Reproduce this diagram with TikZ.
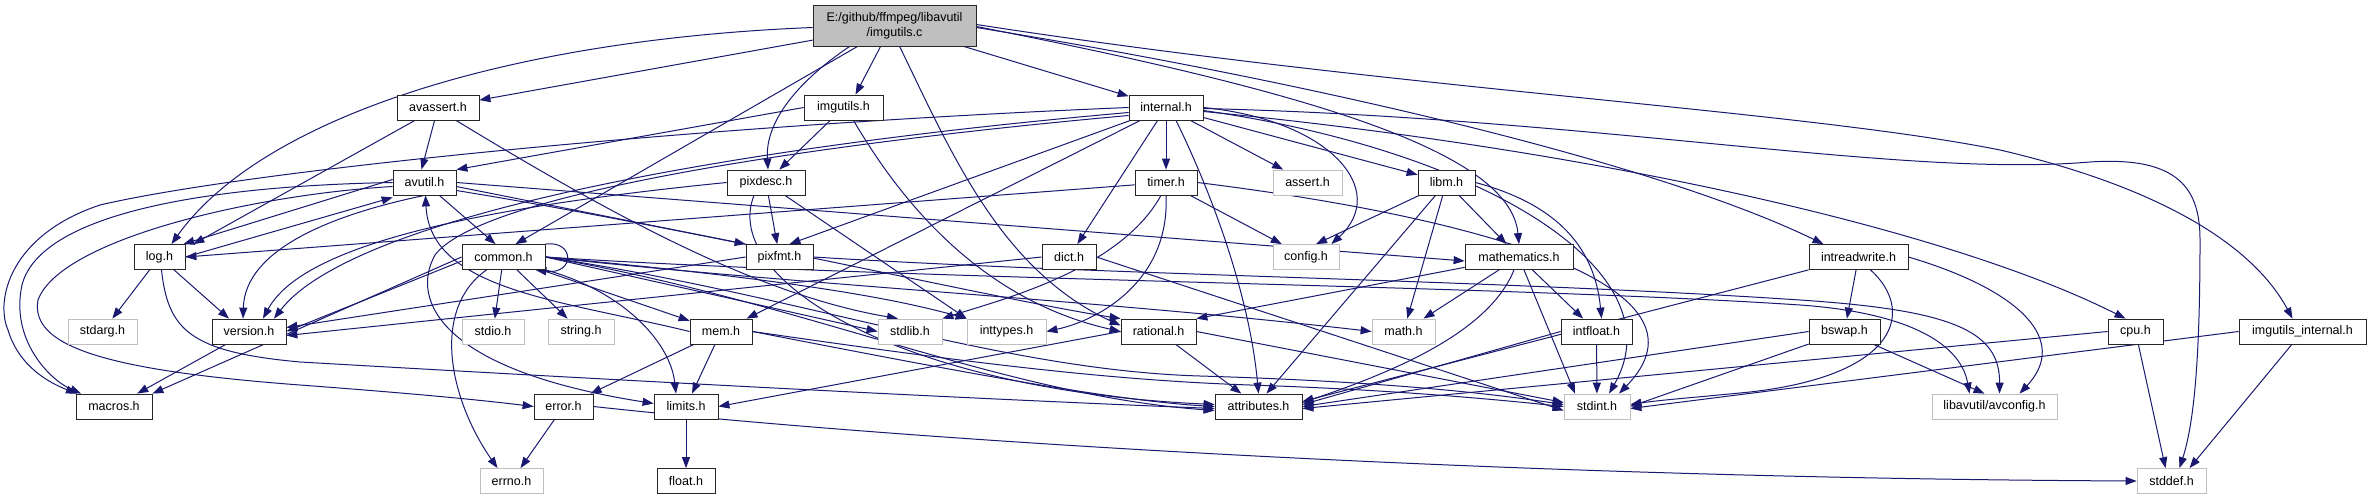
\documentclass[tikz,border=0pt]{standalone}
\usepackage{fontspec}
\setmainfont{Liberation Sans}
\usetikzlibrary{arrows.meta}
\definecolor{edgec}{HTML}{191970}
\definecolor{sysc}{HTML}{BFBFBF}
\pgfdeclarelayer{edgelayer}
\pgfsetlayers{edgelayer,main}
\begin{document}
\begin{tikzpicture}[x=1pt,y=-1pt,
 box/.style={draw=black!85,line width=0.8pt,fill=white,minimum height=25pt,inner sep=0pt,font=\fontsize{12.5}{15}\selectfont},
 sysbox/.style={box,draw=sysc},
 rootbox/.style={box,fill=sysc,minimum height=41pt,align=center},
 ed/.style={draw=edgec,line width=1pt,-{Triangle[length=11pt,width=8pt]}},
]
\useasboundingbox (0,0) rectangle (2371,500);
% row 0
\node[rootbox,minimum width=163pt] (root) at (894.5,25.5) {E:/github/ffmpeg/libavutil\\/imgutils.c};
% row 1
\node[box,minimum width=82pt] (avassert) at (438,107.5) {avassert.h};
\node[box,minimum width=79pt] (imgutilsh) at (843.5,107.5) {imgutils.h};
\node[box,minimum width=74pt] (internal) at (1166,107.5) {internal.h};
% row 2
\node[box,minimum width=63pt] (avutil) at (424.5,182.5) {avutil.h};
\node[box,minimum width=78pt] (pixdesc) at (766,182.5) {pixdesc.h};
\node[box,minimum width=62pt] (timer) at (1166,182.5) {timer.h};
\node[sysbox,minimum width=69pt] (assert) at (1307.5,182.5) {assert.h};
\node[box,minimum width=57pt] (libm) at (1446.5,182.5) {libm.h};
% row 3
\node[box,minimum width=51pt] (log) at (159.5,257) {log.h};
\node[box,minimum width=83pt] (common) at (503.5,257) {common.h};
\node[box,minimum width=67pt] (pixfmt) at (779.5,257) {pixfmt.h};
\node[box,minimum width=54pt] (dict) at (1069,257) {dict.h};
\node[sysbox,minimum width=66pt] (config) at (1306,257) {config.h};
\node[box,minimum width=108pt] (mathematics) at (1519,257) {mathematics.h};
\node[box,minimum width=99pt] (intreadwrite) at (1858.5,257) {intreadwrite.h};
% row 4
\node[sysbox,minimum width=69pt] (stdarg) at (102.5,331.5) {stdarg.h};
\node[box,minimum width=74pt] (version) at (249,331.5) {version.h};
\node[sysbox,minimum width=62pt] (stdio) at (493,331.5) {stdio.h};
\node[sysbox,minimum width=66pt] (string) at (581,331.5) {string.h};
\node[box,minimum width=62pt] (mem) at (721,331.5) {mem.h};
\node[sysbox,minimum width=64pt] (stdlib) at (910,331.5) {stdlib.h};
\node[sysbox,minimum width=79pt] (inttypes) at (1006.5,331.5) {inttypes.h};
\node[box,minimum width=75pt] (rational) at (1158.5,331.5) {rational.h};
\node[sysbox,minimum width=63pt] (math) at (1403.5,331.5) {math.h};
\node[box,minimum width=71pt] (intfloat) at (1596.5,331.5) {intfloat.h};
\node[box,minimum width=71pt] (bswap) at (1844.5,331.5) {bswap.h};
\node[box,minimum width=55pt] (cpu) at (2135.5,331.5) {cpu.h};
\node[box,minimum width=127pt] (imgint) at (2302.5,331.5) {imgutils\_internal.h};
% row 5
\node[box,minimum width=76pt] (macros) at (114,406.5) {macros.h};
\node[box,minimum width=59pt] (error) at (563.5,406.5) {error.h};
\node[box,minimum width=64pt] (limits) at (686,406.5) {limits.h};
\node[box,minimum width=87pt] (attributes) at (1258.5,406.5) {attributes.h};
\node[sysbox,minimum width=66pt] (stdint) at (1597,406.5) {stdint.h};
\node[sysbox,minimum width=125pt] (avconfig) at (1994.5,406.5) {libavutil/avconfig.h};
% row 6
\node[sysbox,minimum width=63pt] (errno) at (511.5,481) {errno.h};
\node[box,minimum width=58pt] (float) at (686,481) {float.h};
\node[sysbox,minimum width=69pt] (stddef) at (2171.5,481) {stddef.h};

\begin{pgfonlayer}{edgelayer}
\fill[white] (0,0) rectangle (2371,500);
% imgutils.c
\draw[ed] (root) -- (avassert);
\draw[ed] ([yshift=-2pt]root.west) .. controls (500,40) and (260,120) .. ([xshift=12pt]log.north);
\draw[ed] ([xshift=45pt]root.south west) -- ([xshift=12pt]common.north);
\draw[ed] ([xshift=37pt]root.south west) .. controls (800,80) and (765,120) .. ([xshift=2pt]pixdesc.north);
\draw[ed] ([xshift=68pt]root.south west) -- ([xshift=12pt]imgutilsh.north);
\draw[ed] ([xshift=87pt]root.south west) .. controls (950,150) and (1000,270) .. ([yshift=6pt]rational.west);
\draw[ed] (root) -- (internal);
\draw[ed] ([yshift=-1pt]root.east) .. controls (1300,90) and (1510,150) .. (mathematics.north);
\draw[ed] ([yshift=-2pt]root.east) .. controls (1300,80) and (1650,160) .. ([xshift=-35pt]intreadwrite.north);
\draw[ed] ([yshift=1pt]root.east) .. controls (1400,90) and (1800,110) .. (2000,150) .. controls (2150,185) and (2250,240) .. ([xshift=-10pt]imgint.north);
% avassert
\draw[ed] (avassert) -- ([xshift=-3pt]avutil.north);
\draw[ed] (avassert) -- ([xshift=8pt]log.north east);
\draw[ed] ([xshift=18pt]avassert.south) .. controls (620,220) and (760,295) .. ([xshift=-12pt]stdlib.north);
% imgutils.h
\draw[ed] (imgutilsh.west) -- (avutil.north east);
\draw[ed] (imgutilsh) -- (pixdesc);
\draw[ed] ([xshift=10pt]imgutilsh.south) .. controls (900,200) and (980,300) .. (rational.west);
% internal.h
\draw[ed] (internal) -- (assert);
\draw[ed] (internal) -- (libm);
\draw[ed] (internal) -- (timer);
\draw[ed] (internal) -- (dict);
\draw[ed] (internal) -- (mem);
\draw[ed] (internal) -- ([xshift=10pt]pixfmt.north);
\draw[ed] (internal.east) .. controls (1330,120) and (1390,190) .. ([xshift=-8pt]config.north east);
\draw[ed] ([xshift=10pt]internal.south) .. controls (1215,200) and (1250,300) .. (attributes.north);
\draw[ed] ([yshift=-3pt]internal.east) .. controls (1480,150) and (1680,270) .. ([xshift=12pt]stdint.north);
\draw[ed] ([yshift=-4pt]internal.east) .. controls (1600,150) and (1950,230) .. ([xshift=-10pt]cpu.north);
\draw[ed] ([yshift=-1pt]internal.east) .. controls (1600,118) and (1900,178) .. (2090,162) .. controls (2180,156) and (2200,190) .. (2200,240) .. controls (2200,350) and (2195,420) .. ([xshift=8pt]stddef.north);
\draw[ed] (internal.west) .. controls (700,125) and (250,170) .. (100,205) .. controls (10,235) and (-5,300) .. (8,330) .. controls (20,370) and (55,385) .. ([xshift=-37pt]macros.north);
\draw[ed] ([yshift=-5pt]internal.west) .. controls (700,150) and (350,220) .. ([xshift=25pt]version.north);
\draw[ed] ([yshift=-8pt]internal.west) .. controls (800,145) and (480,195) .. (435,255) .. controls (410,300) and (440,370) .. ([yshift=3pt]limits.west);
% avutil.h
\draw[ed] (avutil) -- ([xshift=-8pt]common.north);
\draw[ed] ([yshift=3pt]avutil.west) -- ([xshift=-2pt]log.north east);
\draw[ed] (log.east) -- ([yshift=-2pt]avutil.south west);
\draw[ed] (avutil.south) .. controls (330,215) and (245,250) .. ([xshift=-6pt]version.north);
\draw[ed] (avutil.west) .. controls (200,186) and (40,215) .. (22,285) .. controls (10,340) and (50,380) .. ([xshift=-33pt]macros.north);
\draw[ed] ([yshift=-4pt]avutil.west) .. controls (250,195) and (60,240) .. (38,300) .. controls (30,345) and (100,370) .. (300,385) .. controls (420,394) and (480,400) .. (error.west);
\draw[ed] (avutil.east) -- ([yshift=-4pt]mathematics.west);
\draw[ed] ([yshift=-4pt]avutil.east) -- (pixfmt.north west);
\draw[ed] ([yshift=-8pt]avutil.east) .. controls (700,230) and (1000,300) .. (rational.north west);
% mem -> avutil
\draw[ed] (mem.west) .. controls (560,300) and (430,290) .. ([xshift=1pt]avutil.south);
% pixdesc
\draw[ed] (pixdesc) -- (pixfmt);
\draw[ed] (pixdesc) -- (inttypes.north west);
\draw[ed] (pixdesc.west) .. controls (450,210) and (300,250) .. ([xshift=14pt]version.north);
\draw[ed] ([xshift=-12pt]pixdesc.south) .. controls (720,280) and (900,390) .. ([yshift=2pt]attributes.west);
% timer
\draw[ed] (timer) -- (log.east);
\draw[ed] (timer) -- (config);
\draw[ed] (timer.south) .. controls (1170,280) and (1100,320) .. (inttypes.east);
\draw[ed] ([xshift=-5pt]timer.south) .. controls (1120,270) and (1000,300) .. (stdlib.north east);
\draw[ed] (timer.east) .. controls (1500,220) and (1720,290) .. ([xshift=22pt]stdint.north);
% libm
\draw[ed] (libm) -- ([xshift=10pt]config.north);
\draw[ed] (libm) -- (mathematics);
\draw[ed] (libm) -- (math);
\draw[ed] (libm) -- ([xshift=8pt]attributes.north);
\draw[ed] (libm.east) .. controls (1560,205) and (1595,250) .. ([xshift=5pt]intfloat.north);
% log
\draw[ed] (log) -- (stdarg);
\draw[ed] (log) -- ([xshift=-20pt]version.north);
\draw[ed] ([xshift=2pt]log.south) .. controls (168,330) and (190,352) .. (300,362) .. controls (700,385) and (1000,400) .. ([yshift=-2pt]attributes.west);
% common
\draw[ed] (common.north east) .. controls (575,240) and (575,275) .. ([xshift=-10pt]common.south east);
\draw[ed] (common) -- (stdio);
\draw[ed] (common) -- (string);
\draw[ed] (common) -- (mem);
\draw[ed] ([xshift=-17pt]common.south) .. controls (430,310) and (450,400) .. ([xshift=-14pt]errno.north);
\draw[ed] (common.south east) .. controls (620,290) and (670,340) .. ([xshift=-10pt]limits.north);
\draw[ed] (common.west) -- (macros.north east);
\draw[ed] ([yshift=-4pt]common.west) -- (version.east);
\draw[ed] (common.east) -- (stdlib.west);
\draw[ed] (common.east) .. controls (800,280) and (900,300) .. (inttypes.north west);
\draw[ed] (common.east) .. controls (800,285) and (1100,300) .. (math.west);
\draw[ed] (common.east) .. controls (800,295) and (1000,370) .. (1200,376) .. controls (1400,382) and (1500,395) .. ([yshift=2pt]stdint.west);
\draw[ed] (common.east) .. controls (800,300) and (1000,395) .. ([yshift=-4pt]attributes.west);
\draw[ed] (common.east) .. controls (900,280) and (1500,285) .. (1800,305) .. controls (1900,312) and (1960,340) .. ([xshift=-25pt]avconfig.north);
% dict
\draw[ed] (dict.west) -- ([yshift=-4pt]version.east);
\draw[ed] (dict.east) -- ([yshift=-4pt]stdint.west);
% pixfmt
\draw[ed] (pixfmt.west) -- ([yshift=4pt]version.east);
\draw[ed] (pixfmt.east) .. controls (1100,275) and (1500,280) .. (1800,300) .. controls (1950,310) and (2000,330) .. ([xshift=5pt]avconfig.north);
% mathematics
\draw[ed] (mathematics) -- (intfloat);
\draw[ed] (mathematics) -- (math);
\draw[ed] (mathematics) -- (rational.north east);
\draw[ed] ([xshift=-5pt]mathematics.south) .. controls (1490,330) and (1400,370) .. ([yshift=4pt]attributes.east);
\draw[ed] ([xshift=5pt]mathematics.south) -- ([xshift=-22pt]stdint.north);
% intreadwrite
\draw[ed] (intreadwrite) -- (bswap);
\draw[ed] (intreadwrite) -- ([yshift=5pt]attributes.east);
\draw[ed] ([xshift=12pt]intreadwrite.south) .. controls (1915,310) and (1900,375) .. (1750,392) .. controls (1700,397) and (1660,400) .. ([yshift=2pt]stdint.east);
\draw[ed] (intreadwrite.east) .. controls (2020,290) and (2070,340) .. ([xshift=25pt]avconfig.north);
% mem
\draw[ed] (mem) -- (limits);
\draw[ed] (mem) -- (error);
\draw[ed] (mem.east) .. controls (900,360) and (1100,400) .. (attributes.west);
\draw[ed] (mem.east) .. controls (950,360) and (1100,380) .. (1250,385) .. controls (1400,390) and (1500,400) .. (stdint.west);
% rational
\draw[ed] (rational) -- (attributes);
\draw[ed] (rational.east) -- ([yshift=4pt]stdint.west);
\draw[ed] (rational.west) -- (limits.east);
% intfloat
\draw[ed] (intfloat) -- (stdint);
\draw[ed] (intfloat.west) -- ([yshift=2pt]attributes.east);
% bswap
\draw[ed] (bswap.west) -- (attributes.east);
\draw[ed] (bswap) -- (stdint.east);
\draw[ed] (bswap) -- ([xshift=-10pt]avconfig.north);
% cpu
\draw[ed] (cpu) -- ([xshift=-6pt]stddef.north);
\draw[ed] (cpu.west) -- ([yshift=-2pt]attributes.east);
% imgutils_internal
\draw[ed] (imgint) -- ([xshift=18pt]stddef.north);
\draw[ed] (imgint.west) -- ([yshift=-2pt]stdint.east);
% misc
\draw[ed] (version) -- (macros);
\draw[ed] (error) -- (errno);
\draw[ed] (error.east) .. controls (900,440) and (1500,478) .. (stddef.west);
\draw[ed] (limits) -- (float);
\end{pgfonlayer}
\end{tikzpicture}
\end{document}
